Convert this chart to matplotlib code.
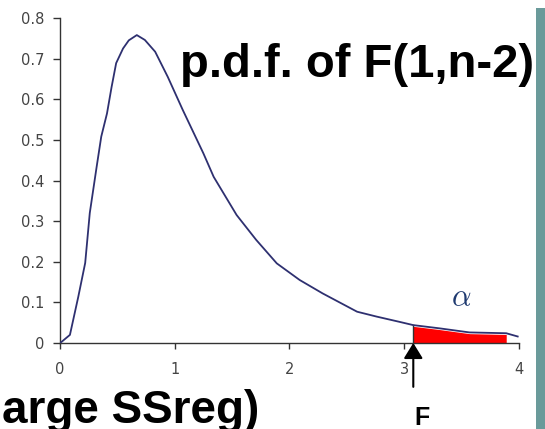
import matplotlib
matplotlib.use("Agg")
import matplotlib.pyplot as plt
from matplotlib.patches import Rectangle
import numpy as np

# curve
x_vals = [0, 0.015, 0.087, 0.16, 0.22, 0.26, 0.32, 0.36, 0.41, 0.45, 0.49, 0.55, 0.60,
          0.67, 0.74, 0.83, 0.94, 1.07, 1.25, 1.34, 1.54, 1.71, 1.89, 2.09, 2.29, 2.59,
          2.76, 2.96, 3.08, 3.31, 3.57, 3.89, 3.99]
y_vals = [0, 0.003, 0.02, 0.114, 0.197, 0.32, 0.434, 0.508, 0.565, 0.63, 0.689, 0.725, 0.745,
          0.758, 0.746, 0.717, 0.655, 0.574, 0.467, 0.409, 0.315, 0.254, 0.196, 0.155, 0.122, 0.077,
          0.065, 0.052, 0.044, 0.036, 0.026, 0.024, 0.016]
f_crit = 3.08
tail_end = 3.89
x_ticks = [0, 1, 2, 3, 4]
y_ticks = [0, 0.1, 0.2, 0.3, 0.4, 0.5, 0.6, 0.7, 0.8]

plt.rcParams['mathtext.fontset'] = 'cm'

fig = plt.figure(figsize=(5.45, 4.29), dpi=100)
ax = fig.add_axes([0.110, 0.2005, 0.842, 0.7575])

x = np.array(x_vals)
y = np.array(y_vals)

# red tail area
m = (x >= f_crit) & (x <= tail_end)
ax.fill_between(x[m], 0, y[m] - 0.003, color='#ff0000', lw=0, zorder=2)
ax.plot([f_crit, f_crit], [0, np.interp(f_crit, x, y)], color='#333333', lw=1, zorder=3)

ax.plot(x, y, color='#2e3070', lw=1.3, zorder=4)

ax.set_xlim(0, 4)
ax.set_ylim(0, 0.8)
ax.set_xticks(x_ticks)
ax.set_yticks(y_ticks)
ax.set_xticklabels([str(t) for t in x_ticks])
ax.set_yticklabels(['0'] + ['%.1f' % t for t in y_ticks[1:]])
for s in ['top', 'right']:
    ax.spines[s].set_visible(False)
for s in ['left', 'bottom']:
    ax.spines[s].set_color('#333333')
    ax.spines[s].set_linewidth(1)
ax.tick_params(axis='x', direction='out', length=4.5, width=1, color='#333333',
               pad=9, labelsize=10.5, labelcolor='#444444')
ax.tick_params(axis='y', direction='out', length=5, width=1, color='#333333',
               pad=6, labelsize=10.5, labelcolor='#444444')

ax.text(3.5, 0.112, r'$\alpha$', fontsize=22, color='#1f3a70', ha='center', va='center')

ax.annotate('', xy=(f_crit, 0.0), xytext=(f_crit, -0.108),
            arrowprops=dict(arrowstyle='-|>,head_length=0.47,head_width=0.29',
                            mutation_scale=20, color='black', lw=1.5,
                            shrinkA=0, shrinkB=0),
            annotation_clip=False)

fig.text(0.330, 0.8205, 'p.d.f. of F(1,n-2)', fontsize=34, fontweight='bold',
         family='Liberation Sans', ha='left', va='baseline')
fig.text(0.475, 0.014, '(large SSreg)', fontsize=33, fontweight='bold',
         family='Liberation Sans', ha='right', va='baseline')
fig.text(0.774, 0.0093, 'F', fontsize=18, fontweight='bold',
         family='Liberation Sans', ha='center', va='baseline')

fig.add_artist(Rectangle((536 / 545, 0), 9 / 545, 421 / 429, transform=fig.transFigure,
                         facecolor='#6a9a9a', edgecolor='none'))

fig.savefig('out.png', dpi=100)
